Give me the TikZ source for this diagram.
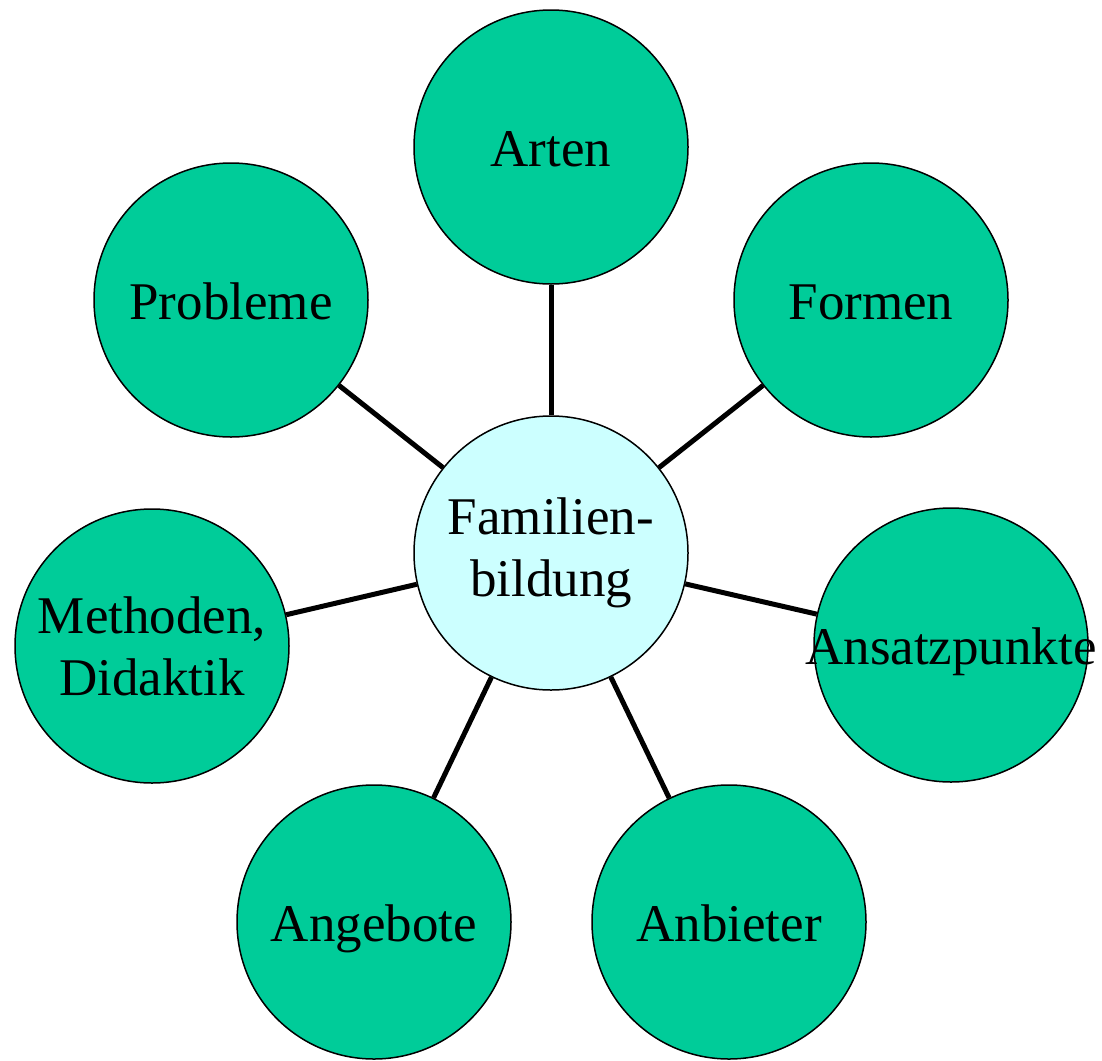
\documentclass[tikz,border=0pt]{standalone}
\usepackage{fontspec}
\setmainfont{Liberation Serif}
\definecolor{themagruen}{HTML}{00CC99}
\definecolor{kernblau}{HTML}{CCFFFF}
\begin{document}
\begin{tikzpicture}[x=0.5pt,y=-0.5pt] % 1 unit = 1 pixel of the original
\tikzstyle{thema} = [circle, draw, line width=0.75pt, fill=themagruen, minimum size=137pt, inner sep=0pt, align=center, font=\fontsize{26.5}{31}\selectfont] % outer circle style
\tikzstyle{einzeilig} = [text height=22pt, text depth=3pt] % one line labels sit on a common baseline
\tikzstyle{kern} = [thema, fill=kernblau] % centre circle style
\tikzstyle{strich} = [line width=2.5pt] % connector
\useasboundingbox (0,0) rectangle (1102,1060);

\node[kern] (fam) at (551,553) {Familien-\\bildung}; % Mitte
\node[thema, einzeilig] (arten) at (551,147) {Arten};
\node[thema, einzeilig] (formen) at (871,300) {Formen};
\node[thema, einzeilig, inner sep=-5pt] (ansatz) at (951,645) {Ansatzpunkte}; % text wider than the circle
\node[thema, einzeilig] (anbieter) at (729,922) {Anbieter};
\node[thema, einzeilig] (angebote) at (374,922) {Angebote};
\node[thema] (methoden) at (152,646) {Methoden,\\Didaktik};
\node[thema, einzeilig] (probleme) at (231,300) {Probleme};

\foreach \n in {arten,formen,ansatz,anbieter,angebote,methoden,probleme}
    \draw[strich] (fam) -- (\n);
\end{tikzpicture}
\end{document}
